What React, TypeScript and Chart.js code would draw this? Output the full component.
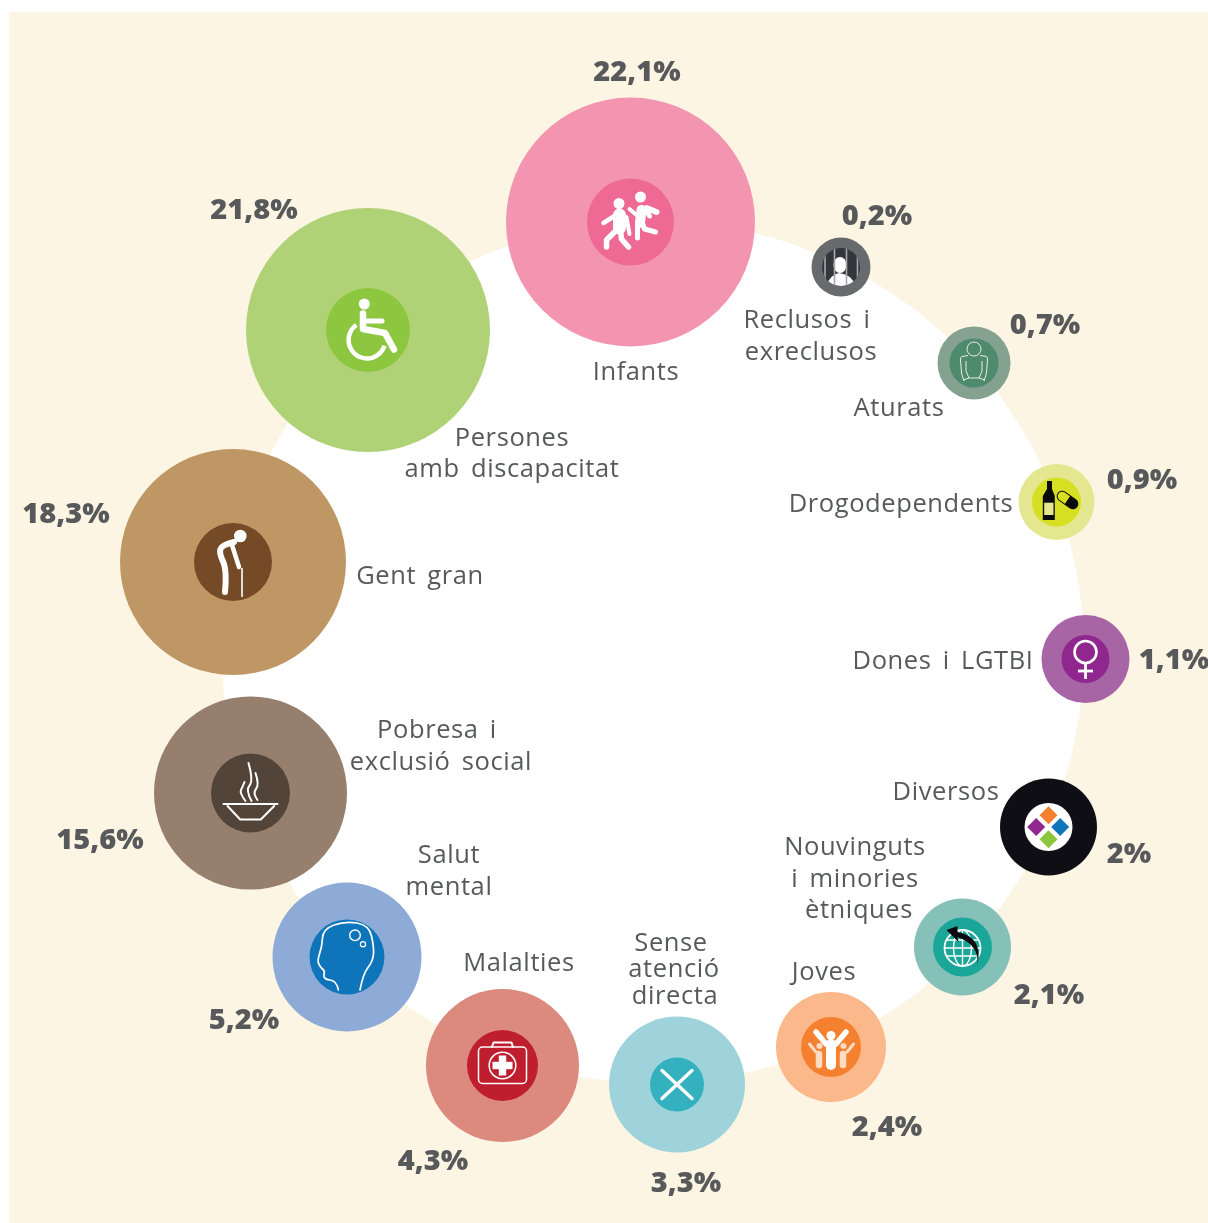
import React, { useEffect, useRef } from "react";
import { Chart, registerables } from "chart.js";

Chart.register(...registerables);

// ---- data ----
const categories = ["Infants","Reclusos i exreclusos","Aturats","Drogodependents","Dones i LGTBI","Diversos","Nouvinguts i minories ètniques","Joves","Sense atenció directa","Malalties","Salut mental","Pobresa i exclusió social","Gent gran","Persones amb discapacitat"];
const shares = [22.1,0.2,0.7,0.9,1.1,2,2.1,2.4,3.3,4.3,5.2,15.6,18.3,21.8];
const labelLines = [["Infants"],["Reclusos i","exreclusos"],["Aturats"],["Drogodependents"],["Dones i LGTBI"],["Diversos"],["Nouvinguts","i minories","ètniques"],["Joves"],["Sense","atenció","directa"],["Malalties"],["Salut","mental"],["Pobresa i","exclusió social"],["Gent gran"],["Persones","amb discapacitat"]];

// ---- layout (in chart units) ----
const bubbleX = [630.5,841,974,1056.5,1085.5,1048.5,962.5,831,677,502.5,347,250.5,233,368];
const bubbleY = [222,267,363,502,659,827,947,1047,1084.5,1065.5,957,793,562,330];
const outerR = [124.5,29.5,36.5,38,44,48.5,48.5,55,68,76.5,74.5,96.5,113,122];
const innerR = [43.5,19,24.5,24.5,24,24,29.5,30,27,35.5,37.5,39.5,39,42];
const outerColors = ["#F395B0","#676B6E","#85A18F","#E4E78F","#A865A6","#0F0E15","#86C1B9","#FBB98B","#9FD3DC","#DB8A7D","#8DABD6","#967F6D","#BF9765","#B0D276"];
const innerColors = ["#EF6995","#33373B","#4E8A6C","#D7DF23","#90278E","#FFFFFF","#1AA698","#F58130","#34B1BE","#BE1E2D","#0F75BB","#534439","#744A27","#8DC63F"];
const pctX = [637,877,1045,1142,1174,1129,1049,887,686,433,244,100,66,254];
const pctY = [73,217,326,481,661,855,996,1128,1184,1162,1021,841,515,211];
const labelX = [[636],[807,811],[899],[901],[943],[946],[855,855,859],[824],[671,674,675],[519],[449,449],[437,441],[420],[512,512]];
const labelY = [[373],[321,353],[409],[505],[662],[793],[848,880,911],[973],[944,970,997],[964],[856,888],[731,763],[577],[439,470]];
const ringX = [653];
const ringY = [652];
const ringR = [431];

type Ctx = CanvasRenderingContext2D;
type Pt = [number, number];

function line(c: Ctx, pts: Pt[], lw: number, color = "#fff", cap: CanvasLineCap = "round") {
  c.beginPath();
  pts.forEach((p, i) => (i ? c.lineTo(p[0], p[1]) : c.moveTo(p[0], p[1])));
  c.lineWidth = lw; c.strokeStyle = color; c.lineCap = cap; c.lineJoin = "round";
  c.stroke();
}
function smooth(c: Ctx, pts: Pt[], lw: number, color = "#fff") {
  c.beginPath();
  c.moveTo(pts[0][0], pts[0][1]);
  for (let i = 1; i < pts.length - 1; i++) {
    const mx = (pts[i][0] + pts[i + 1][0]) / 2, my = (pts[i][1] + pts[i + 1][1]) / 2;
    c.quadraticCurveTo(pts[i][0], pts[i][1], i === pts.length - 2 ? pts[i + 1][0] : mx, i === pts.length - 2 ? pts[i + 1][1] : my);
  }
  c.lineWidth = lw; c.strokeStyle = color; c.lineCap = "round"; c.lineJoin = "round";
  c.stroke();
}
function disc(c: Ctx, x: number, y: number, r: number, color = "#fff") {
  c.beginPath(); c.arc(x, y, r, 0, Math.PI * 2); c.fillStyle = color; c.fill();
}
function ring(c: Ctx, x: number, y: number, r: number, lw: number, color = "#fff") {
  c.beginPath(); c.arc(x, y, r, 0, Math.PI * 2); c.strokeStyle = color; c.lineWidth = lw; c.stroke();
}

const icons: ((c: Ctx, r: number) => void)[] = [
  // Infants
  (c) => {
    disc(c, -11.5, -18.5, 5.5); disc(c, 10, -25, 5.5);
    line(c, [[-11, -7], [-11, 6]], 13);
    line(c, [[-16, -6], [-27, 1]], 4.5);
    line(c, [[-4, -5], [-1, 12]], 4);
    line(c, [[-15, 9], [-24, 18], [-24, 25]], 5.5);
    line(c, [[-10, 9], [-9, 17], [-2, 25]], 5.5);
    line(c, [[11, -12], [9.5, 1]], 10);
    line(c, [[-1, -13], [6, -7]], 4);
    line(c, [[16, -14], [26, -10]], 6);
    line(c, [[17, -10], [19, -6]], 5);
    line(c, [[7, 3], [7, 16]], 5);
    line(c, [[12, 1], [14, 7], [25, 10]], 5);
  },
  // Reclusos
  (c, r) => {
    c.save(); c.beginPath(); c.arc(0, 0, r, 0, Math.PI * 2); c.clip();
    c.beginPath(); c.ellipse(-1, -2, 6.5, 8, 0, 0, Math.PI * 2); c.fillStyle = "#fff"; c.fill();
    c.beginPath(); c.moveTo(-15, 19); c.quadraticCurveTo(-10, 7, -2, 6); c.quadraticCurveTo(10, 7, 15, 19); c.closePath(); c.fill();
    [-16, -6.5, 5.5, 16.5].forEach((x) => line(c, [[x, -20], [x, 20]], 1.6, "#A7A9AC", "butt"));
    c.restore();
  },
  // Aturats
  (c) => {
    const col = "#E9EEE6";
    ring(c, 0, -14, 7, 1, col);
    c.beginPath();
    c.moveTo(-6, -7.5); c.lineTo(-12, -6.5); c.quadraticCurveTo(-14, -6, -13.5, -3);
    c.lineTo(-12.5, 10); c.lineTo(-10, 18); c.moveTo(6, -7.5); c.lineTo(12, -6.5);
    c.quadraticCurveTo(14, -6, 13.5, -3); c.lineTo(12.5, 10); c.lineTo(10, 18);
    c.moveTo(-8, -2); c.lineTo(-8, 8); c.lineTo(-5, 15); c.moveTo(8, -2); c.lineTo(8, 8); c.lineTo(5, 15);
    c.moveTo(-11, 17); c.lineTo(-5, 15); c.lineTo(5, 15); c.lineTo(11, 17);
    c.strokeStyle = col; c.lineWidth = 1; c.stroke();
  },
  // Drogodependents
  (c) => {
    c.fillStyle = "#0B0B0B";
    c.fillRect(-9.5, -21, 5, 9);
    c.beginPath(); c.moveTo(-9.5, -13); c.lineTo(-4.5, -13); c.lineTo(-1.7, -6); c.lineTo(-1.7, 18); c.lineTo(-13.7, 18); c.lineTo(-13.7, -6); c.closePath(); c.fill();
    c.fillStyle = "#E4E78F"; c.fillRect(-12.3, 0.7, 9.3, 12.3);
    c.save(); c.translate(11, -2); c.rotate((35 * Math.PI) / 180);
    c.beginPath(); c.roundRect(-12, -5.5, 24, 11, 5.5); c.fillStyle = "#0B0B0B"; c.fill();
    c.beginPath(); c.roundRect(-11, -4.5, 11, 9, [4.5, 0, 0, 4.5]); c.fillStyle = "#D7DF23"; c.fill();
    c.restore();
  },
  // Dones
  (c) => {
    ring(c, 0, -7, 11, 2.6);
    line(c, [[0, 5], [0, 20]], 2.8, "#fff", "butt");
    line(c, [[-7.5, 12], [7.5, 12]], 2.8, "#fff", "butt");
  },
  // Diversos
  (c) => {
    const d: [number, number, string][] = [[0, -11.7, "#F58130"], [-12.3, 0, "#90278E"], [11.7, 0, "#0F75BB"], [0, 12.3, "#8DC63F"]];
    d.forEach(([x, y, col]) => {
      c.beginPath(); c.moveTo(x, y - 9); c.lineTo(x + 9, y); c.lineTo(x, y + 9); c.lineTo(x - 9, y); c.closePath();
      c.fillStyle = col; c.fill();
    });
  },
  // Nouvinguts
  (c) => {
    ring(c, 0, 1, 18, 1.8);
    c.save(); c.beginPath(); c.arc(0, 1, 18, 0, Math.PI * 2); c.clip();
    [-8, 0, 8].forEach((y) => line(c, [[-18, y + 1], [18, y + 1]], 1.4, "#fff", "butt"));
    line(c, [[0, -18], [0, 20]], 1.4, "#fff", "butt");
    c.beginPath(); c.ellipse(0, 1, 9, 18, 0, 0, Math.PI * 2); c.strokeStyle = "#fff"; c.lineWidth = 1.4; c.stroke();
    c.restore();
    c.beginPath(); c.moveTo(15, 18);
    c.quadraticCurveTo(17, -2, -5, -10); c.lineTo(-4, -5); c.lineTo(-16, -17); c.lineTo(-5, -21); c.lineTo(-5, -15);
    c.quadraticCurveTo(21, -10, 15, 18); c.closePath();
    c.fillStyle = "#0B0B10"; c.fill();
  },
  // Joves
  (c) => {
    const soft = "#FDDCC5";
    disc(c, -11.5, -1, 3, soft); disc(c, 12.5, -1, 3, soft);
    line(c, [[-21.5, -3], [-15, 5]], 3, soft);
    line(c, [[22.5, -3], [16, 5]], 3, soft);
    line(c, [[-12, 7], [-12, 18]], 6.5, soft);
    line(c, [[12, 7], [12, 18]], 6.5, soft);
    disc(c, 0, -11.5, 4.5);
    line(c, [[-15, -15], [-5, -3]], 5.5);
    line(c, [[15, -15], [5, -3]], 5.5);
    line(c, [[0, -3], [0, 18]], 10);
  },
  // Sense atenció
  (c) => {
    line(c, [[-15, -14], [15, 14]], 3.4);
    line(c, [[15, -14], [-15, 14]], 3.4);
  },
  // Malalties
  (c) => {
    c.beginPath(); c.roundRect(-24, -18.5, 48, 36.5, 4); c.strokeStyle = "#fff"; c.lineWidth = 1.5; c.stroke();
    line(c, [[-10.5, -18.5], [-9, -23], [9, -23], [10.5, -18.5]], 2);
    ring(c, 0, 0, 13.3, 1.5);
    c.fillStyle = "#fff"; c.fillRect(-10, -3.7, 20, 7.4); c.fillRect(-3.7, -10, 7.4, 20);
  },
  // Salut mental
  (c) => {
    smooth(c, [[-8.7, 33], [-10, 24], [-24, 22], [-22, 14], [-26, 11], [-30, 4], [-25, -10], [-24, -28], [-2, -36], [22, -32], [27, -10], [26, 4], [16, 17], [13, 33]], 1.7);
    ring(c, 8, -21.7, 5.3, 1.4);
    ring(c, 16, -12.7, 2.6, 1.2);
  },
  // Pobresa
  (c) => {
    line(c, [[-27, 11], [27, 11]], 2);
    line(c, [[-23, 13], [-10.3, 26.5], [10.3, 26.5], [23.7, 13]], 2);
    smooth(c, [[-5, 8], [-11, 0], [-8, -6], [-6, -11]], 2);
    smooth(c, [[1, 8], [-5, -3], [3, -12], [-2, -30]], 2);
    smooth(c, [[7, 7], [2, 0], [9, -8], [5, -20]], 2);
  },
  // Gent gran
  (c) => {
    disc(c, 7.3, -26, 6.3);
    smooth(c, [[1, -20], [-11, -17], [-14, -9], [-6, 8], [-8, 30]], 6);
    line(c, [[-1, -17], [6, 5]], 4.5);
    line(c, [[9, 6], [9, 35]], 1.6, "#fff", "butt");
  },
  // Persones amb discapacitat
  (c) => {
    disc(c, -3.7, -26, 5.5);
    line(c, [[-5, -16.5], [-5, -1], [17, 3], [26, 19.5]], 6.5);
    line(c, [[-5, -9], [14, -9]], 5);
    c.beginPath();
    c.arc(-1, 10, 18.4, (234.5 * Math.PI) / 180, (18 * Math.PI) / 180, true);
    c.strokeStyle = "#fff"; c.lineWidth = 4.5; c.lineCap = "butt"; c.stroke();
  },
];

const PANEL = "#FDF5E3";
const TEXT = "#58595B";

const paintPlugin = {
  id: "paint",
  beforeDatasetsDraw(chart: any) {
    const { ctx, scales } = chart;
    const x0 = scales.x.getPixelForValue(9), x1 = scales.x.getPixelForValue(1208);
    const y0 = scales.y.getPixelForValue(12), y1 = scales.y.getPixelForValue(1223);
    ctx.save();
    ctx.fillStyle = PANEL;
    ctx.fillRect(x0, y0, x1 - x0, y1 - y0);
    ctx.restore();
  },
  afterDatasetsDraw(chart: any) {
    const { ctx, scales } = chart;
    const px = (v: number) => scales.x.getPixelForValue(v);
    const py = (v: number) => scales.y.getPixelForValue(v);
    categories.forEach((_, i) => {
      ctx.save();
      ctx.translate(px(bubbleX[i]), py(bubbleY[i]));
      icons[i](ctx, innerR[i]);
      ctx.restore();
    });
    ctx.save();
    ctx.textAlign = "center";
    ctx.textBaseline = "middle";
    ctx.fillStyle = TEXT;
    ctx.font = "400 25.5px 'Open Sans'";
    ctx.letterSpacing = "0.6px";
    ctx.wordSpacing = "4px";
    labelLines.forEach((lines, i) => {
      lines.forEach((t, j) => ctx.fillText(t, px(labelX[i][j]), py(labelY[i][j])));
    });
    ctx.font = "800 29px 'Open Sans'";
    ctx.letterSpacing = "0px";
    ctx.wordSpacing = "0px";
    shares.forEach((v, i) => {
      ctx.fillText(`${String(v).replace(".", ",")}%`, px(pctX[i]), py(pctY[i]));
    });
    ctx.restore();
  },
};

export default function App() {
  const ref = useRef<HTMLCanvasElement>(null);
  useEffect(() => {
    const chart = new Chart(ref.current!, {
      type: "bubble",
      data: {
        labels: categories,
        datasets: [
          {
            label: "Inner",
            order: 1,
            clip: false,
            data: categories.map((_, i) => ({ x: bubbleX[i], y: bubbleY[i], r: innerR[i] })),
            backgroundColor: innerColors,
            borderWidth: 0,
          },
          {
            label: "Share",
            order: 2,
            clip: false,
            data: categories.map((_, i) => ({ x: bubbleX[i], y: bubbleY[i], r: outerR[i] })),
            backgroundColor: outerColors,
            borderWidth: 0,
          },
          {
            label: "Ring",
            order: 3,
            clip: false,
            data: [{ x: ringX[0], y: ringY[0], r: ringR[0] }],
            backgroundColor: "#FFFFFF",
            borderWidth: 0,
          },
        ],
      },
      options: {
        animation: false,
        responsive: false,
        events: [],
        layout: { padding: 0, autoPadding: false },
        plugins: { legend: { display: false }, tooltip: { enabled: false } },
        scales: {
          x: { type: "linear", min: 0, max: 1208, display: false },
          y: { type: "linear", min: 0, max: 1223, reverse: true, display: false },
        },
      },
      plugins: [paintPlugin],
    } as any);
    return () => chart.destroy();
  }, []);
  return (
    <div style={{ position: "absolute", left: 0, top: 0, width: 1208, height: 1223, background: "#fff" }}>
      <canvas ref={ref} width={1208} height={1223} style={{ display: "block" }} />
    </div>
  );
}
